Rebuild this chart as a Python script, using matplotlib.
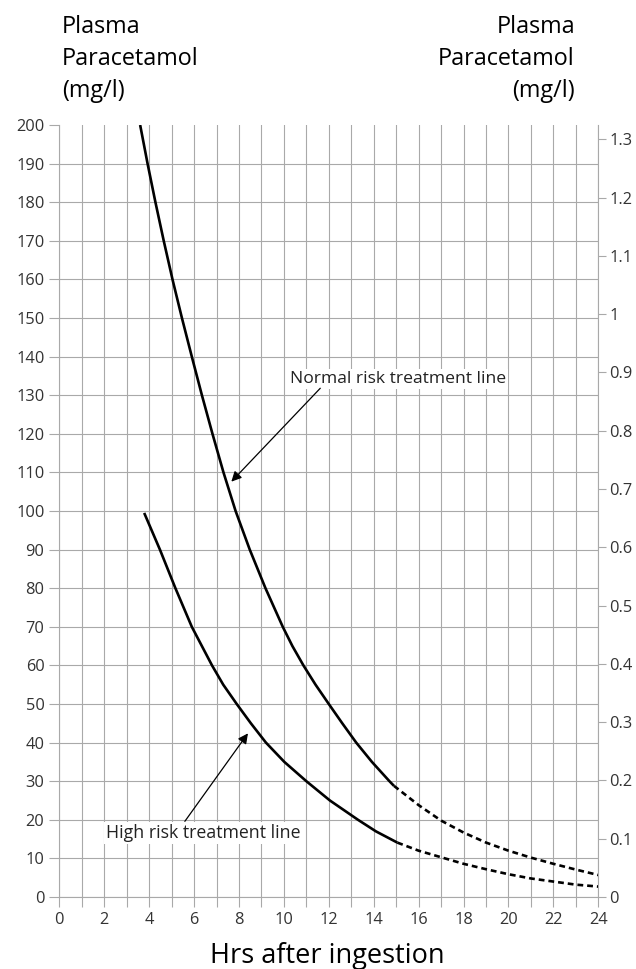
import numpy as np
import matplotlib
matplotlib.use('Agg')
import matplotlib.pyplot as plt

# readings taken off the nomogram (hours, mg/l)
normal_solid_hrs = [3.6, 3.93, 4.28, 4.65, 5.04, 5.46, 5.9, 6.35, 6.82, 7.31, 7.85, 8.48, 9.18, 9.95,
                    10.38, 10.87, 11.41, 12.0, 12.6, 13.22, 13.92, 14.7, 14.9]
normal_solid_mg = [200, 190, 180, 170, 160, 150, 140, 130, 120, 110, 100, 90, 80, 70,
                   65, 60, 55, 50, 45, 40, 35, 30, 28.8]
normal_dash_hrs = [14.9, 16, 17, 18, 19, 20, 21, 22, 23, 24]
normal_dash_mg = [28.8, 23.8, 19.8, 16.7, 14.1, 12.0, 10.2, 8.6, 7.1, 5.7]

high_solid_hrs = [3.78, 4.48, 5.17, 5.9, 6.8, 7.3, 7.9, 8.53, 9.2, 10.02, 11.0, 12.05, 13.3, 14.1, 15.05]
high_solid_mg = [99.5, 90, 80, 70, 60, 55, 50, 45, 40, 35, 30, 25, 20, 17, 14.1]
high_dash_hrs = [15.05, 16, 17, 18, 19, 20, 21, 22, 23, 24]
high_dash_mg = [14.1, 12.0, 10.3, 8.6, 7.2, 5.9, 4.8, 4.0, 3.2, 2.7]

hour_ticks = list(range(0, 25))
mg_ticks = list(range(0, 201, 10))
mmol_ticks = [0, 0.1, 0.2, 0.3, 0.4, 0.5, 0.6, 0.7, 0.8, 0.9, 1.0, 1.1, 1.2, 1.3]
MW = 151.0  # mg/l per mmol/l

header = ['Plasma', 'Paracetamol', '(mg/l)']
normal_label = 'Normal risk treatment line'
high_label = 'High risk treatment line'
xlabel = 'Hrs after ingestion'

GRID = '#a9a9a9'
TXT = '#333333'


def main():
    plt.rcParams['font.family'] = ['Open Sans', 'DejaVu Sans']
    fig = plt.figure(figsize=(6.36, 9.69), dpi=100)
    ax = fig.add_axes([59.3/636, 72/969, 539/636, 772/969])

    ax.set_xlim(0, 24)
    ax.set_ylim(0, 200)
    ax.set_xticks(hour_ticks)
    ax.set_xticklabels([str(h) if h % 2 == 0 else '' for h in hour_ticks])
    ax.set_yticks(mg_ticks)
    ax.grid(True, color=GRID, lw=0.8)
    ax.yaxis.get_gridlines()[-1].set_visible(False)
    ax.tick_params(axis='both', length=7.2, width=0.8, color=GRID, labelcolor=TXT,
                   labelsize=11.8, pad=3.5)
    ax.spines['top'].set_visible(False)
    for s in ['left', 'right', 'bottom']:
        ax.spines[s].set_color(GRID)
        ax.spines[s].set_linewidth(0.8)

    ax.plot(normal_solid_hrs, normal_solid_mg, color='k', lw=1.9, solid_capstyle='butt',
            solid_joinstyle='round', zorder=3)
    ax.plot(normal_dash_hrs, normal_dash_mg, color='k', lw=1.9, dashes=(2.2, 1.5), zorder=3)
    ax.plot(high_solid_hrs, high_solid_mg, color='k', lw=1.9, solid_capstyle='butt',
            solid_joinstyle='round', zorder=3)
    ax.plot(high_dash_hrs, high_dash_mg, color='k', lw=1.9, dashes=(2.2, 1.5), zorder=3)

    box = dict(facecolor='white', edgecolor='none', pad=1.5)
    ax.text(10.28, 133.1, normal_label, fontsize=12.6, color='#222222', va='baseline', bbox=box, zorder=4)
    ax.annotate('', xy=(7.66, 107.6), xytext=(11.62, 131.8),
                arrowprops=dict(arrowstyle='-|>', color='k', lw=0.9, mutation_scale=15,
                                shrinkA=0, shrinkB=0), zorder=4)
    ax.text(2.1, 15.3, high_label, fontsize=12.8, color='#222222', va='baseline', bbox=box, zorder=4)
    ax.annotate('', xy=(8.4, 42.4), xytext=(5.59, 19.6),
                arrowprops=dict(arrowstyle='-|>', color='k', lw=0.9, mutation_scale=15,
                                shrinkA=0, shrinkB=0), zorder=4)

    axr = ax.twinx()
    axr.set_ylim(0, 200 / MW)
    axr.set_yticks(mmol_ticks)
    axr.set_yticklabels(['{:g}'.format(t) for t in mmol_ticks])
    axr.tick_params(axis='y', length=6, width=0.8, color=GRID, labelcolor=TXT,
                    labelsize=11.8, pad=2)
    for s in axr.spines.values():
        s.set_visible(False)

    # axis headers
    for i, line in enumerate(header):
        yb = 1 - (33.3 + 31.7 * i) / 969
        fig.text(62/636, yb, line, fontsize=16.8, color='k', ha='left', va='baseline')
        fig.text(575/636, yb, line, fontsize=16.8, color='k', ha='right', va='baseline')

    fig.text(327/636, 1 - 963/969, xlabel, fontsize=19.5, color='k', ha='center', va='baseline')

    fig.savefig('out.png', dpi=100)


if __name__ == '__main__':
    main()
